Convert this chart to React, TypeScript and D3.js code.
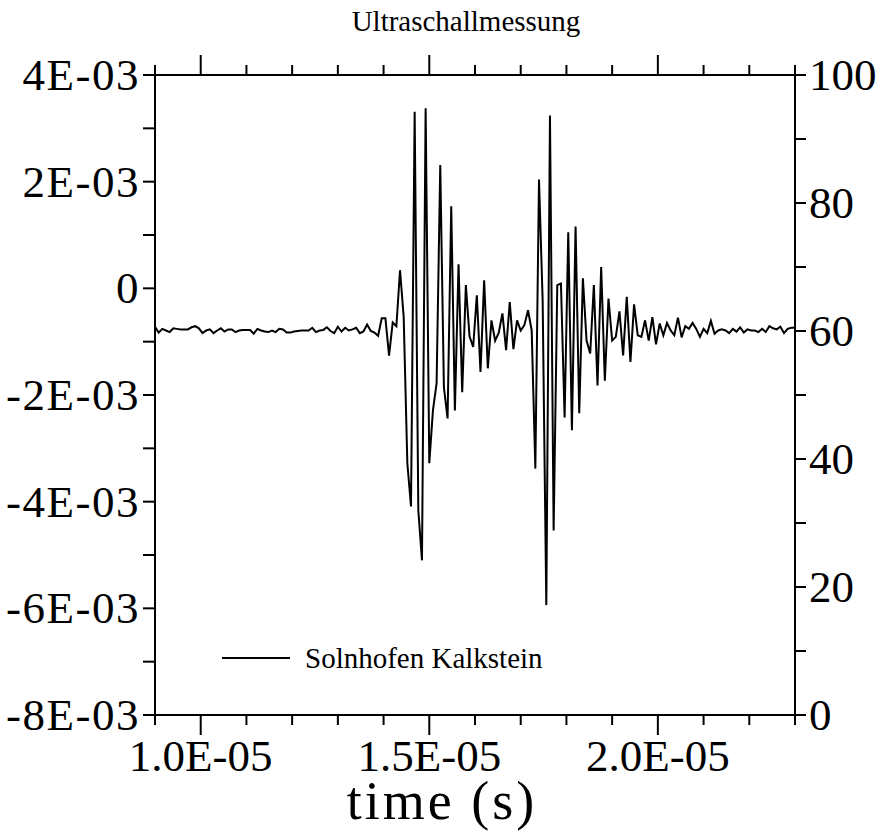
import React from "react";
import * as d3 from "d3";

// ---- data (amplitude in units of 1E-03, sampled every SAMPLE_STEP seconds) ----
const SAMPLE_START = 0.9e-5;
const SAMPLE_STEP = 8.0e-8;
const amplitudeE3: number[] = [
  -0.72, -0.83, -0.76, -0.79, -0.82, -0.75, -0.76, -0.77, -0.77, -0.77,
  -0.73, -0.71, -0.75, -0.84, -0.79, -0.77, -0.84, -0.79, -0.75, -0.81,
  -0.77, -0.77, -0.82, -0.79, -0.78, -0.78, -0.78, -0.85, -0.76, -0.79,
  -0.81, -0.82, -0.79, -0.82, -0.76, -0.77, -0.83, -0.83, -0.81, -0.80,
  -0.79, -0.79, -0.79, -0.74, -0.82, -0.79, -0.78, -0.73, -0.80, -0.84,
  -0.72, -0.81, -0.74, -0.79, -0.77, -0.74, -0.84, -0.81, -0.68, -0.80,
  -0.83,
  -0.89, -0.56, -0.56, -1.26, -0.64, -0.71, 0.34, -0.54, -3.28, -4.09,
  3.31, -4.16, -5.1, 3.375, -3.28, -2.29, -1.78, 2.31, -1.86, -2.44,
  1.54, -2.29, 0.45, -1.95, 0.06, -0.9, -1.1, -0.13, -1.57, 0.15,
  -1.5, -0.6, -0.98, -0.83, -0.47, -1.16, -0.26, -1.14, -0.6, -0.79,
  -0.69, -0.41, -0.79, -3.38, 2.04, -0.23, -5.94, 3.24, -4.54, 0.06,
  0.09, -2.42, 1.05, -2.66, 1.16, -2.34, 0.19, -0.98, -1.22, 0.06,
  -1.82, 0.4, -1.73, -0.19, -0.98, -0.91, -0.43, -1.26, -0.16, -1.38,
  -0.3, -0.88, -0.91, -0.6, -0.98, -0.54, -1.05, -0.66, -0.88, -0.65,
  -0.79, -0.88, -0.55, -0.92, -0.71, -0.76, -0.65, -0.76, -0.91, -0.76,
  -0.84, -0.61, -0.85, -0.79, -0.77, -0.79, -0.84, -0.76, -0.81, -0.73,
  -0.83, -0.77, -0.79, -0.79, -0.82, -0.76, -0.82, -0.71, -0.75, -0.77,
  -0.72, -0.84, -0.76, -0.74, -0.74,
];

const xMajorTicks = [1.0e-5, 1.5e-5, 2.0e-5];
const xMajorLabels = ["1.0E-05", "1.5E-05", "2.0E-05"];
const xMinorTicks = [0.9e-5, 1.1e-5, 1.2e-5, 1.3e-5, 1.4e-5, 1.6e-5, 1.7e-5, 1.8e-5, 1.9e-5, 2.1e-5, 2.2e-5, 2.3e-5];
const yLeftTicks = [4e-3, 3e-3, 2e-3, 1e-3, 0, -1e-3, -2e-3, -3e-3, -4e-3, -5e-3, -6e-3, -7e-3, -8e-3];
const yLeftLabelValues = [4e-3, 2e-3, 0, -2e-3, -4e-3, -6e-3, -8e-3];
const yLeftLabels = ["4E-03", "2E-03", "0", "-2E-03", "-4E-03", "-6E-03", "-8E-03"];
const yRightTicks = [0, 10, 20, 30, 40, 50, 60, 70, 80, 90, 100];
const yRightLabelValues = [0, 20, 40, 60, 80, 100];
const title = "Ultraschallmessung";
const xTitle = "time (s)";
const seriesName = "Solnhofen Kalkstein";

const W = 888;
const H = 834;
const L = 155, R = 795, T = 75, B = 715;
const FONT = "'Liberation Serif', 'Times New Roman', serif";

export default function App() {
  const x = d3.scaleLinear().domain([0.9e-5, 2.3e-5]).range([L, R]);
  const yL = d3.scaleLinear().domain([-8e-3, 4e-3]).range([B, T]);
  const yR = d3.scaleLinear().domain([0, 100]).range([B, T]);

  const pts = amplitudeE3.map((v, i) => ({ t: SAMPLE_START + i * SAMPLE_STEP, v: v * 1e-3 }));
  const line = d3
    .line<{ t: number; v: number }>()
    .x((d) => x(d.t))
    .y((d) => yL(d.v));

  const tickLabelSize = 45;
  const stroke = "#000";

  return (
    <svg
      width={W}
      height={H}
      viewBox={`0 0 ${W} ${H}`}
      style={{ position: "absolute", left: 0, top: 0, background: "#fff" }}
    >
      <rect x={0} y={0} width={W} height={H} fill="#fff" />
      <defs>
        <clipPath id="plot">
          <rect x={L} y={T - 2} width={R - L} height={B - T + 4} />
        </clipPath>
      </defs>

      {/* title */}
      <text x={466} y={31} textAnchor="middle" fontFamily={FONT} fontSize={29} fill={stroke}>
        {title}
      </text>

      {/* frame */}
      <g stroke={stroke} strokeWidth={2} fill="none">
        <line x1={L} y1={T} x2={R} y2={T} />
        <line x1={L} y1={B} x2={R} y2={B} />
        <line x1={L} y1={T} x2={L} y2={B} />
        <line x1={R} y1={T} x2={R} y2={B} />
      </g>

      {/* ticks */}
      <g stroke={stroke} strokeWidth={2}>
        {yLeftTicks.map((v) => (
          <line key={"yl" + v} x1={L - 12} x2={L} y1={yL(v)} y2={yL(v)} />
        ))}
        {yRightTicks.map((v) => (
          <line key={"yr" + v} x1={R} x2={R + 11} y1={yR(v)} y2={yR(v)} />
        ))}
        {xMajorTicks.map((v) => (
          <g key={"xM" + v}>
            <line x1={x(v)} x2={x(v)} y1={B} y2={B + 20} />
            <line x1={x(v)} x2={x(v)} y1={T} y2={T - 20} />
          </g>
        ))}
        {xMinorTicks.map((v) => (
          <g key={"xm" + v}>
            <line x1={x(v)} x2={x(v)} y1={B} y2={B + 10} />
            <line x1={x(v)} x2={x(v)} y1={T} y2={T - 10} />
          </g>
        ))}
      </g>

      {/* tick labels */}
      <g fontFamily={FONT} fontSize={tickLabelSize} fill={stroke}>
        {yLeftLabelValues.map((v, i) => (
          <text key={"lyl" + i} x={L - 15} y={yL(v)} textAnchor="end" dominantBaseline="central" letterSpacing={1.5}>
            {yLeftLabels[i]}
          </text>
        ))}
        {yRightLabelValues.map((v) => (
          <text key={"lyr" + v} x={R + 14} y={yR(v)} textAnchor="start" dominantBaseline="central">
            {String(v)}
          </text>
        ))}
        {xMajorTicks.map((v, i) => (
          <text key={"lx" + i} x={x(v)} y={B + 41} textAnchor="middle" dominantBaseline="central">
            {xMajorLabels[i]}
          </text>
        ))}
      </g>

      {/* x title */}
      <text x={442} y={819} textAnchor="middle" fontFamily={FONT} fontSize={54} letterSpacing={3} fill={stroke}>
        {xTitle}
      </text>

      {/* series */}
      <path d={line(pts) || ""} fill="none" stroke={stroke} strokeWidth={2} strokeLinejoin="miter" clipPath="url(#plot)" />

      {/* legend */}
      <line x1={222} x2={290} y1={658} y2={658} stroke={stroke} strokeWidth={2} />
      <text x={305} y={658} dominantBaseline="central" fontFamily={FONT} fontSize={29} fill={stroke}>
        {seriesName}
      </text>
    </svg>
  );
}
